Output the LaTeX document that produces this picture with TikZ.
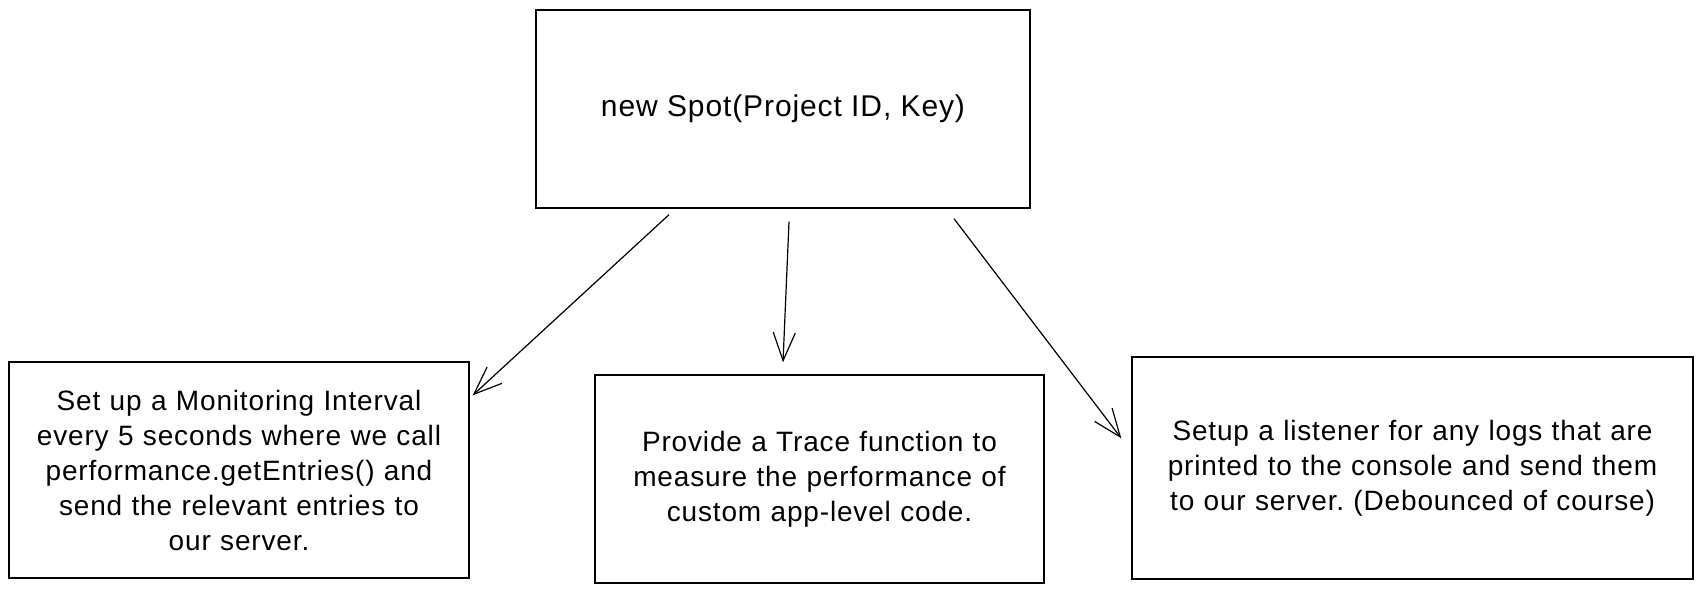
\documentclass[tikz,border=0pt]{standalone}
\usepackage{fontspec}
\setmainfont{Liberation Sans}[LetterSpace=3]
\usetikzlibrary{arrows.meta}
\frenchspacing

\begin{document}
\begin{tikzpicture}[x=1pt, y=-1pt,
		box/.style={draw, rectangle, line width=1.4pt, align=center, inner sep=0pt, font=\fontsize{28}{35}\selectfont},
		arr/.style={-{Straight Barb[length=28pt, width=22pt, line width=1.2pt]}, line width=1.2pt}]
				\useasboundingbox (0, 0) rectangle (1702, 593);
				\node[box, minimum width=494pt, minimum height=198pt, font=\fontsize{30}{35}\selectfont] (spot)at(783, 109) {new Spot(Project ID, Key)};
				\node[box, minimum width=460pt, minimum height=216pt, text width=455pt] (interval)at(239, 470) {Set up a Monitoring Interval\\every 5 seconds where we call\\performance.getEntries() and\\send the relevant entries to\\our server.};
				\node[box, minimum width=449pt, minimum height=208pt, text width=440pt] (trace)at(819.5, 479) {Provide a Trace function to\\measure the performance of\\custom app-level code.};
				\node[box, minimum width=561pt, minimum height=222pt, text width=555pt] (listener)at(1412.5, 468) {Setup a listener for any logs that are\\printed to the console and send them\\to our server. (Debounced of course)};
				\draw[arr] ([xshift=-114pt, yshift=-6pt]spot.south) -- ([xshift=3pt, yshift=-34pt]interval.north east);
				\draw[arr] ([xshift=6pt, yshift=-13pt]spot.south) -- ([xshift=-36.5pt, yshift=12pt]trace.north);
				\draw[arr] ([xshift=171pt, yshift=-10pt]spot.south) -- ([xshift=-10pt, yshift=-82pt]listener.north west);
			\end{tikzpicture}
\end{document}
